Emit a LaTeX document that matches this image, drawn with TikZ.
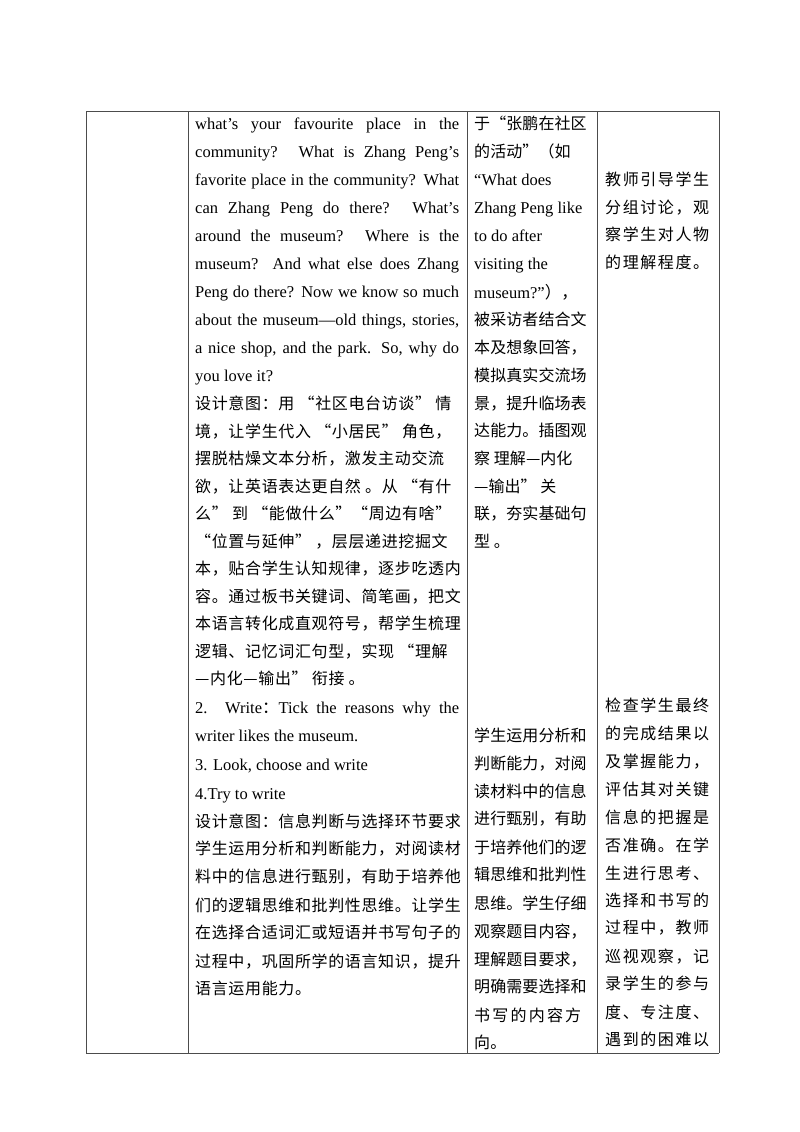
\documentclass[tikz,border=0pt]{standalone}
\usepackage{fontspec}
\setmainfont{Liberation Serif}
\newfontfamily\cjkA[LetterSpace=4]{Noto Sans CJK SC}
\newfontfamily\cjkB[LetterSpace=0.5]{Noto Sans CJK SC}
\newfontfamily\cjkC[LetterSpace=10]{Noto Sans CJK SC}
\newfontfamily\cjk{Noto Sans CJK SC}
\tikzset{
 ln/.style={anchor=base west,inner sep=0pt,font=\fontsize{16.5}{16}\selectfont},
 grid/.style={line width=0.9pt,draw=black!70}
}
\newcommand\jb[1]{\makebox[264pt][s]{#1}}
\begin{document}
\begin{tikzpicture}[x=1pt,y=-1pt]
\useasboundingbox (0,0) rectangle (800,1132);
% table
\draw[grid] (86,111) -- (719,111);
\draw[grid] (86,1053) -- (719,1053);
\foreach \x in {86,188,467,597,719} \draw[grid] (\x,111) -- (\x,1053);
% column 2
\foreach \t [count=\i] in {
 {\jb{what’s your favourite place in the}},
 {\jb{community? What is Zhang Peng’s}},
 {\jb{favorite place in the community? What}},
 {\jb{can Zhang Peng do there? What’s}},
 {\jb{around the museum? Where is the}},
 {\jb{museum? And what else does Zhang}},
 {\jb{Peng do there? Now we know so much}},
 {\jb{about the museum—old things, stories,}},
 {\jb{a nice shop, and the park. So, why do}},
 {you love it?}}
 {\pgfmathsetmacro\yy{123+28*(\i-1)+6}
  \node[ln] (a\i) at (195,\yy) {\t};}
\foreach \t/\yy [count=\i] in {
 {设计意图：用 “社区电台访谈” 情}/403,
 {境，让学生代入 “小居民” 角色，}/431,
 {摆脱枯燥文本分析，激发主动交流}/458,
 {欲，让英语表达更自然 。从 “有什}/486,
 {么” 到 “能做什么”“周边有啥”}/513,
 {“位置与延伸” ，层层递进挖掘文}/541,
 {本，贴合学生认知规律，逐步吃透内}/568,
 {容。通过板书关键词、简笔画，把文}/596,
 {本语言转化成直观符号，帮学生梳理}/623,
 {逻辑、记忆词汇句型，实现 “理解}/651,
 {—内化—输出” 衔接 。}/678}
 {\node[ln,font=\fontsize{16}{16}\cjkA] (b\i) at (195,\yy+6) {\t};}
\node[ln] (c1) at (195,713) {\jb{2. Write{\cjk ：}Tick the reasons why the}};
\node[ln] (c2) at (195,741) {writer likes the museum.};
\node[ln] (c3) at (195,770) {3. Look, choose and write};
\node[ln] (c4) at (195,799) {4.Try to write};
\foreach \t/\yy [count=\i] in {
 {设计意图：信息判断与选择环节要求}/821,
 {学生运用分析和判断能力，对阅读材}/848,
 {料中的信息进行甄别，有助于培养他}/876,
 {们的逻辑思维和批判性思维。让学生}/905,
 {在选择合适词汇或短语并书写句子的}/932,
 {过程中，巩固所学的语言知识，提升}/961,
 {语言运用能力。}/988}
 {\node[ln,font=\fontsize{16}{16}\cjkA] (d\i) at (195,\yy+6) {\t};}
% column 3
\node[ln,font=\fontsize{16}{16}\cjkB] (e1) at (474,129) {于“张鹏在社区};
\node[ln,font=\fontsize{16}{16}\cjkB] (e2) at (474,157) {的活动”（如};
\node[ln] (e3) at (474,185) {“What does};
\node[ln] (e4) at (474,213) {Zhang Peng like};
\node[ln] (e5) at (474,241) {to do after};
\node[ln] (e6) at (474,269) {visiting the};
\node[ln] (e7) at (474,298) {museum?”{\cjk ），}};
\foreach \t/\yy [count=\i] in {
 {被采访者结合文}/319, {本及想象回答，}/347, {模拟真实交流场}/375,
 {景，提升临场表}/403, {达能力。插图观}/430, {察 理解—内化}/458,
 {—输出” 关}/486, {联，夯实基础句}/513, {型 。}/541,
 {学生运用分析和}/735, {判断能力，对阅}/763, {读材料中的信息}/791,
 {进行甄别，有助}/818, {于培养他们的逻}/847, {辑思维和批判性}/874,
 {思维。学生仔细}/903, {观察题目内容，}/931, {理解题目要求，}/959,
 {明确需要选择和}/986, {书\hspace{2.2pt}写\hspace{2.2pt}的\hspace{2.2pt}内\hspace{2.2pt}容\hspace{2.2pt}方}/1015, {向。}/1042}
 {\node[ln,font=\fontsize{16}{16}\cjkB] (f\i) at (474,\yy+6) {\t};}
% column 4
\foreach \t/\yy [count=\i] in {
 {教师引导学生}/179, {分组讨论，观}/207, {察学生对人物}/234, {的理解程度。}/262,
 {检查学生最终}/705, {的完成结果以}/733, {及掌握能力，}/761, {评估其对关键}/789,
 {信息的把握是}/817, {否准确。在学}/845, {生进行思考、}/873, {选择和书写的}/900,
 {过程中，教师}/927, {巡视观察，记}/956, {录学生的参与}/983, {度、专注度、}/1012,
 {遇到的困难以}/1039}
 {\node[ln,font=\fontsize{16}{16}\cjkC] (g\i) at (605,\yy+6) {\t};}
\end{tikzpicture}
\end{document}
